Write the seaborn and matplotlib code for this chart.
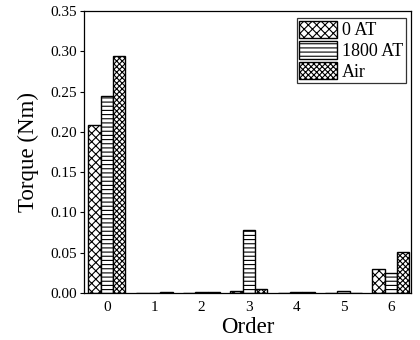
import matplotlib
matplotlib.use("Agg")
import matplotlib.pyplot as plt
import seaborn as sns
import pandas as pd

orders = ["0", "1", "2", "3", "4", "5", "6"]
series_names = ["0 AT", "1800 AT", "Air"]
torque_0at = [0.208, 0.0004, 0.0005, 0.003, 0.0005, 0.0005, 0.0294]
torque_1800at = [0.244, 0.0005, 0.001, 0.0787, 0.0015, 0.0025, 0.0249]
torque_air = [0.2945, 0.0009, 0.0008, 0.005, 0.001, 0.0005, 0.051]
yticks = [0.00, 0.05, 0.10, 0.15, 0.20, 0.25, 0.30, 0.35]

rows = []
for name, vals in zip(series_names, [torque_0at, torque_1800at, torque_air]):
    for o, v in zip(orders, vals):
        rows.append({"Order": o, "Torque": v, "Series": name})
df = pd.DataFrame(rows)

sns.set_theme(style="ticks")
plt.rcParams["font.family"] = ["Liberation Serif", "DejaVu Serif"]
plt.rcParams["hatch.linewidth"] = 0.8
plt.rcParams["hatch.color"] = "black"

fig = plt.figure(figsize=(4.2, 3.4), dpi=100)
ax = fig.add_axes([0.2, 0.138, 0.778, 0.830])

sns.barplot(data=df, x="Order", y="Torque", hue="Series", order=orders,
            hue_order=series_names, palette=["white"] * 3, edgecolor="black",
            linewidth=1.0, width=0.78, legend=False, ax=ax)

hatches = ["xxxx", "----", "xxxxxx"]
for cont, h in zip(ax.containers, hatches):
    for p in cont.patches:
        p.set_hatch(h)
        p.set_edgecolor("black")
        p.set_facecolor("white")

ax.set_ylim(0, 0.35)
ax.set_xlim(-0.48, 6.42)
ax.set_yticks(yticks)
ax.set_yticklabels([f"{t:.2f}" for t in yticks])
ax.tick_params(axis="y", direction="out", length=3, width=0.8, labelsize=11, pad=2, colors="black")
ax.tick_params(axis="x", length=0, labelsize=11, pad=6, colors="black")
for s in ax.spines.values():
    s.set_visible(True)
    s.set_color("black")
    s.set_linewidth(0.9)

ax.set_xlabel("Order", fontsize=16.5, labelpad=2, color="black")
ax.set_ylabel("Torque (Nm)", fontsize=16.5, labelpad=8, color="black")

handles = [c.patches[0] for c in ax.containers]
leg = ax.legend(handles, series_names, loc="upper right", fontsize=13,
                frameon=True, fancybox=False, edgecolor="black",
                handlelength=2.1, handleheight=1.1, handletextpad=0.25,
                labelspacing=0.1, borderpad=0.15, borderaxespad=0.0,
                bbox_to_anchor=(0.985, 0.975))
leg.get_frame().set_linewidth(0.9)
for t in leg.get_texts():
    t.set_color("black")

fig.savefig("out.png", dpi=100)
